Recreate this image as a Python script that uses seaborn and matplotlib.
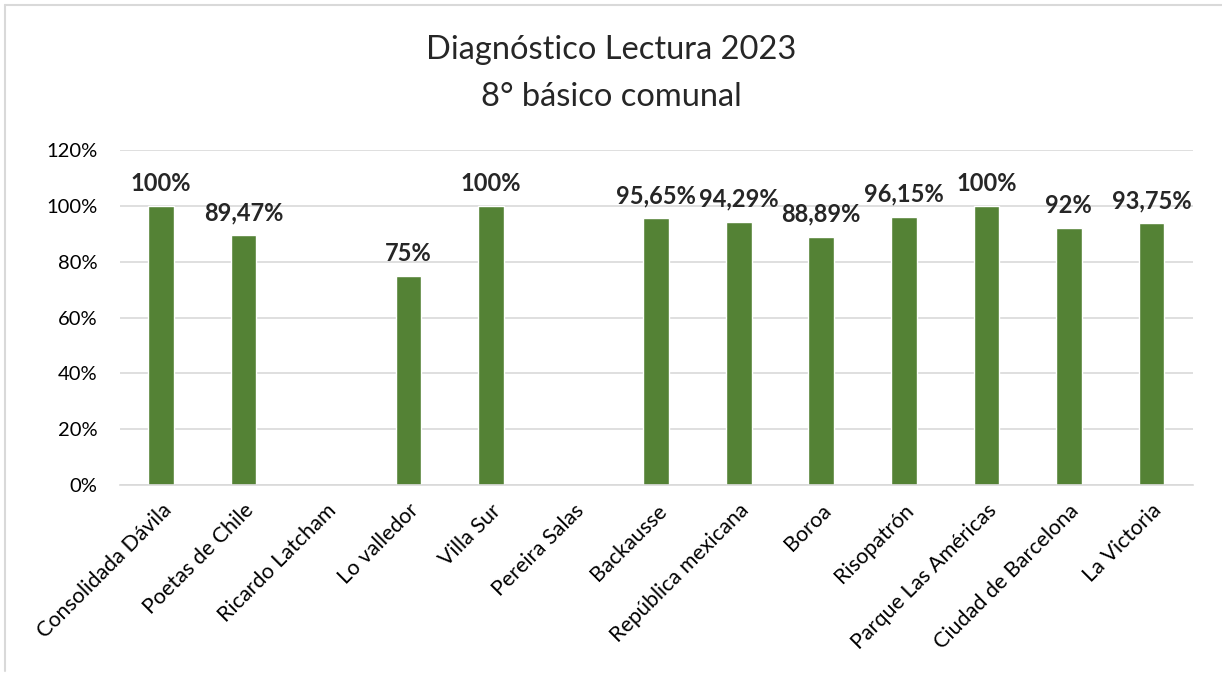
#!/usr/bin/env python3
import numpy as np
import pandas as pd
import seaborn as sns
import matplotlib.pyplot as plt
from matplotlib.lines import Line2D
from matplotlib.ticker import MultipleLocator, FuncFormatter

sns.set_style("white")
plt.rcParams["font.family"] = ["Lato", "DejaVu Sans"]

# Data
schools = [
    "Consolidada Dávila", "Poetas de Chile", "Ricardo Latcham", "Lo valledor",
    "Villa Sur", "Pereira Salas", "Backausse", "República mexicana", "Boroa",
    "Risopatrón", "Parque Las Américas", "Ciudad de Barcelona", "La Victoria",
]
values = [100, 89.47, np.nan, 75, 100, np.nan, 95.65, 94.29, 88.89, 96.15, 100, 92, 93.75]
labels = ["100%", "89,47%", "", "75%", "100%", "", "95,65%", "94,29%", "88,89%",
          "96,15%", "100%", "92%", "93,75%"]

df = pd.DataFrame({"school": schools, "pct": values})

GREEN = "#548235"
GRID = "#d9d9d9"

fig = plt.figure(figsize=(12.22, 6.76), dpi=100)
ax = fig.add_axes([0.098, 0.2825, 0.878, 0.4955])

sns.barplot(data=df, x="school", y="pct", color=GREEN, width=0.31,
            saturation=1, ax=ax)

ax.set_ylim(0, 120)
ax.yaxis.set_major_locator(MultipleLocator(20))
ax.yaxis.set_major_formatter(FuncFormatter(lambda v, _: f"{v:.0f}%"))
ax.grid(axis="y", color=GRID, lw=1.2)
ax.set_axisbelow(True)
for s in ["top", "right", "left"]:
    ax.spines[s].set_visible(False)
ax.spines["bottom"].set_color(GRID)
ax.spines["bottom"].set_linewidth(1.2)
ax.tick_params(axis="both", length=0, labelsize=14.5, colors="#000000")
ax.tick_params(axis="x", labelsize=15.5, pad=11)
ax.tick_params(axis="y", pad=16)
ax.set_xlabel("")
ax.set_ylabel("")
plt.setp(ax.get_xticklabels(), rotation=45, ha="right", rotation_mode="anchor")

# Data labels
for i, (v, lab) in enumerate(zip(values, labels)):
    if np.isnan(v):
        continue
    ax.annotate(lab, (i, v), xytext=(0, 8), textcoords="offset points",
                ha="center", va="bottom", fontsize=17, fontweight="bold")

fig.text(0.5, 0.926, "Diagnóstico Lectura 2023", ha="center", va="center", fontsize=23.5)
fig.text(0.5, 0.856, "8° básico comunal", ha="center", va="center", fontsize=23.5)

# Chart border (top and left edges visible)
fig.add_artist(Line2D([0.0045, 1.0], [0.9925, 0.9925], transform=fig.transFigure,
                      color=GRID, lw=1.5))
fig.add_artist(Line2D([0.0045, 0.0045], [0.9925, 0.008], transform=fig.transFigure,
                      color=GRID, lw=1.5))

fig.savefig("out.png", dpi=100)
